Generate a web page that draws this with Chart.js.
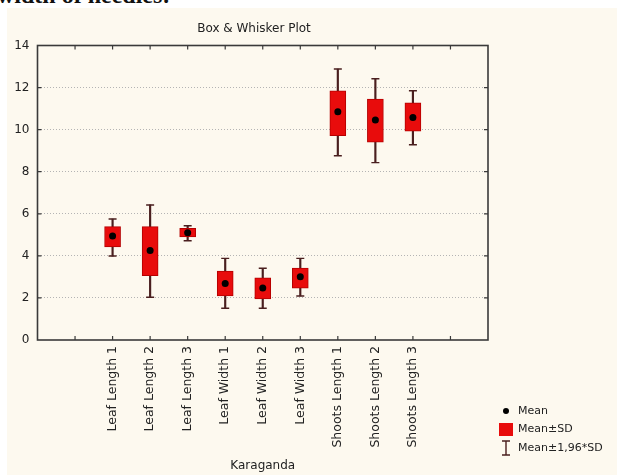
<!DOCTYPE html>
<html>
<head>
<meta charset="utf-8">
<script src="https://cdn.jsdelivr.net/npm/chart.js@4.4.1/dist/chart.umd.min.js"></script>
<style>
  html, body { margin: 0; padding: 0; background: #fff; width: 617px; height: 475px; overflow: hidden; }
  body { position: relative; font-family: "DejaVu Sans", sans-serif; }
  #caption { position: absolute; left: -3px; top: -18px; font: bold 24px "Liberation Serif", serif; color: #111; white-space: nowrap; }
  #panel { position: absolute; left: 7px; top: 8px; width: 610px; height: 467px; background: #fdf9ef; }
</style>
</head>
<body>
<div id="caption">width of needles:</div>
<div id="panel"><canvas id="boxChart" width="610" height="467"></canvas></div>
<script>
// ===== Data =====
const categories = [
  "Leaf Length 1", "Leaf Length 2", "Leaf Length 3",
  "Leaf Width 1", "Leaf Width 2", "Leaf Width 3",
  "Shoots Length 1", "Shoots Length 2", "Shoots Length 3",
];
const means  = [4.94, 4.26, 5.10, 2.68, 2.47, 3.01, 10.85, 10.46, 10.58];
const sdLow  = [4.43, 3.06, 4.90, 2.09, 1.95, 2.46, 9.71, 9.41, 9.93];
const sdHigh = [5.39, 5.39, 5.31, 3.28, 2.96, 3.42, 11.85, 11.45, 11.28];
const ciLow  = [3.99, 2.03, 4.72, 1.51, 1.51, 2.09, 8.76, 8.43, 9.28];
const ciHigh = [5.75, 6.42, 5.43, 3.88, 3.41, 3.88, 12.88, 12.42, 11.85];
const yTicks = [0, 2, 4, 6, 8, 10, 12, 14];

const titleText = "Box & Whisker Plot";
const xTitle = "Karaganda";

// ===== Helpers =====
// two empty slots on each side, like the original axis
const pad = (arr) => [null, null, ...arr, null, null];
const labels = pad(categories).map((l) => l || "");
const FONT = '"DejaVu Sans", sans-serif';
const RED = "#e80c0c";
const WHISKER = "#4a1f1f";

// frame + inward tick marks
const framePlugin = {
  id: "frame",
  beforeDatasetsDraw(chart) {
    const { ctx, chartArea: a, scales: { x, y } } = chart;
    ctx.save();
    ctx.strokeStyle = "#3a3a3a";
    ctx.lineWidth = 1.2;
    ctx.beginPath();
    for (let i = 1; i < labels.length - 1; i++) {
      const px = x.getPixelForValue(i);
      ctx.moveTo(px, a.bottom); ctx.lineTo(px, a.bottom - 4);
      ctx.moveTo(px, a.top); ctx.lineTo(px, a.top + 4);
    }
    yTicks.slice(1, -1).forEach((v) => {
      const py = y.getPixelForValue(v);
      ctx.moveTo(a.left, py); ctx.lineTo(a.left + 4, py);
      ctx.moveTo(a.right, py); ctx.lineTo(a.right - 4, py);
    });
    ctx.stroke();
    ctx.lineWidth = 1.6;
    ctx.strokeRect(a.left, a.top, a.right - a.left, a.bottom - a.top);
    ctx.restore();
  },
};

// title + legend in the style of the original
const decorPlugin = {
  id: "decor",
  afterDraw(chart) {
    const { ctx, chartArea: a } = chart;
    ctx.save();
    ctx.fillStyle = "#222";
    ctx.textBaseline = "middle";
    ctx.font = `12px ${FONT}`;
    ctx.textAlign = "center";
    ctx.fillText(titleText, 247, 21);

    const lx = a.right + 18, tx = a.right + 30, b = a.bottom;
    ctx.font = `11px ${FONT}`;
    ctx.textAlign = "left";
    // Mean
    ctx.beginPath();
    ctx.arc(lx, b + 71, 3, 0, Math.PI * 2);
    ctx.fillStyle = "#000";
    ctx.fill();
    ctx.fillStyle = "#222";
    ctx.fillText("Mean", tx, b + 71);
    // Mean±SD
    ctx.fillStyle = RED;
    ctx.fillRect(lx - 7, b + 83, 14, 13);
    ctx.fillStyle = "#222";
    ctx.fillText("Mean±SD", tx, b + 89.5);
    // Mean±1,96*SD
    ctx.strokeStyle = WHISKER;
    ctx.lineWidth = 1.4;
    ctx.beginPath();
    ctx.moveTo(lx, b + 101); ctx.lineTo(lx, b + 115);
    ctx.moveTo(lx - 4, b + 101); ctx.lineTo(lx + 4, b + 101);
    ctx.moveTo(lx - 4, b + 115); ctx.lineTo(lx + 4, b + 115);
    ctx.stroke();
    ctx.fillText("Mean±1,96*SD", tx, b + 108);
    ctx.restore();
  },
};

// ===== Chart =====
const ctx = document.getElementById("boxChart");
new Chart(ctx, {
  data: {
    labels,
    datasets: [
      {
        type: "line",
        label: "Mean",
        data: pad(means),
        showLine: false,
        pointStyle: "circle",
        pointRadius: 3.5,
        pointBackgroundColor: "#000",
        pointBorderWidth: 0,
        order: 0,
      },
      {
        type: "line",
        label: "caps low",
        data: pad(ciLow),
        showLine: false,
        pointStyle: "line",
        pointRadius: 4,
        pointBorderColor: WHISKER,
        pointBorderWidth: 1.4,
        order: 1,
      },
      {
        type: "line",
        label: "caps high",
        data: pad(ciHigh),
        showLine: false,
        pointStyle: "line",
        pointRadius: 4,
        pointBorderColor: WHISKER,
        pointBorderWidth: 1.4,
        order: 1,
      },
      {
        type: "bar",
        label: "Mean±SD",
        data: pad(sdLow.map((v, i) => [v, sdHigh[i]])),
        backgroundColor: RED,
        borderColor: "#b50000",
        borderWidth: 1,
        borderSkipped: false,
        barThickness: 16,
        grouped: false,
        order: 2,
      },
      {
        type: "bar",
        label: "Mean±1,96*SD",
        data: pad(ciLow.map((v, i) => [v, ciHigh[i]])),
        backgroundColor: WHISKER,
        borderWidth: 0,
        barThickness: 1.5,
        grouped: false,
        order: 3,
      },
    ],
  },
  options: {
    responsive: false,
    animation: false,
    events: [],
    layout: { padding: { top: 37.5, right: 129, bottom: 0, left: 0 } },
    plugins: { legend: { display: false }, tooltip: { enabled: false }, title: { display: false } },
    scales: {
      x: {
        type: "category",
        offset: false,
        grid: { display: false, drawTicks: false },
        border: { display: false },
        ticks: {
          autoSkip: false,
          maxRotation: 90,
          minRotation: 90,
          padding: 6,
          color: "#222",
          font: { family: FONT, size: 12.5 },
        },
        title: {
          display: true,
          text: xTitle,
          color: "#222",
          font: { family: FONT, size: 12 },
          padding: { top: 0, bottom: 2 },
        },
        afterFit(scale) { scale.height = 135; },
      },
      y: {
        type: "linear",
        min: 0,
        max: 14,
        afterBuildTicks(scale) { scale.ticks = yTicks.map((v) => ({ value: v })); },
        grid: {
          drawTicks: false,
          color: (c) => (c.tick && (c.tick.value === 0 || c.tick.value === 14) ? "rgba(0,0,0,0)" : "#b4b4b4"),
          lineWidth: 1,
        },
        border: { display: false, dash: [1, 2] },
        ticks: { padding: 8, color: "#222", font: { family: FONT, size: 12 } },
        afterFit(scale) { scale.width = 30.5; },
      },
    },
  },
  plugins: [framePlugin, decorPlugin],
});
</script>
</body>
</html>
